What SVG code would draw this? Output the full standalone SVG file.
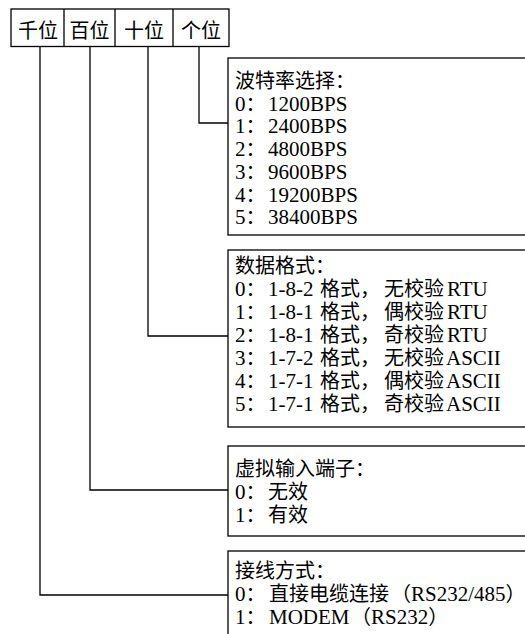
<svg xmlns="http://www.w3.org/2000/svg" width="525" height="634" viewBox="0 0 525 634">
<style>
.ln{fill:none;stroke:#000;stroke-width:1.3}
.bx{fill:#fff;stroke:#000;stroke-width:1.3}
text{font-family:"Liberation Serif","Noto Sans CJK SC",serif;font-size:20px;fill:#000}
.l{font-size:21px}
.h{text-anchor:middle}
</style>
<rect width="525" height="634" fill="#fff"/>
<g id="connectors">
<path class="ln" d="M40,47 V595 H228"/>
<path class="ln" d="M90,47 V490 H228"/>
<path class="ln" d="M148,47 V336 H228"/>
<path class="ln" d="M199,47 V123 H228"/>
</g>
<g id="header">
<rect class="bx" x="11" y="9" width="218" height="37.5"/>
<path class="ln" d="M64,9 V46.5 M115,9 V46.5 M173,9 V46.5"/>
<text class="h" x="38" y="38">千位</text>
<text class="h" x="89.5" y="38">百位</text>
<text class="h" x="144" y="38">十位</text>
<text class="h" x="201" y="38">个位</text>
</g>
<g id="baud">
<rect class="bx" x="228" y="58" width="310" height="177"/>
<text x="235" y="88">波特率选择：</text>
<text y="110.7"><tspan x="235" class="l">0</tspan>：<tspan x="268" class="l">1200BPS</tspan></text>
<text y="133.4"><tspan x="235" class="l">1</tspan>：<tspan x="268" class="l">2400BPS</tspan></text>
<text y="156.1"><tspan x="235" class="l">2</tspan>：<tspan x="268" class="l">4800BPS</tspan></text>
<text y="178.8"><tspan x="235" class="l">3</tspan>：<tspan x="268" class="l">9600BPS</tspan></text>
<text y="201.5"><tspan x="235" class="l">4</tspan>：<tspan x="268" class="l">19200BPS</tspan></text>
<text y="224.2"><tspan x="235" class="l">5</tspan>：<tspan x="268" class="l">38400BPS</tspan></text>
</g>
<g id="format">
<rect class="bx" x="228" y="250" width="310" height="177"/>
<text x="235" y="272.5">数据格式：</text>
<text y="295.5"><tspan x="235" class="l">0</tspan>：<tspan x="268" class="l">1-8-2</tspan><tspan x="320">格式，</tspan><tspan x="384">无校验</tspan><tspan x="447" class="l">RTU</tspan></text>
<text y="318.5"><tspan x="235" class="l">1</tspan>：<tspan x="268" class="l">1-8-1</tspan><tspan x="320">格式，</tspan><tspan x="384">偶校验</tspan><tspan x="447" class="l">RTU</tspan></text>
<text y="341.5"><tspan x="235" class="l">2</tspan>：<tspan x="268" class="l">1-8-1</tspan><tspan x="320">格式，</tspan><tspan x="384">奇校验</tspan><tspan x="447" class="l">RTU</tspan></text>
<text y="364.5"><tspan x="235" class="l">3</tspan>：<tspan x="268" class="l">1-7-2</tspan><tspan x="320">格式，</tspan><tspan x="384">无校验</tspan><tspan x="446" class="l">ASCII</tspan></text>
<text y="387.5"><tspan x="235" class="l">4</tspan>：<tspan x="268" class="l">1-7-1</tspan><tspan x="320">格式，</tspan><tspan x="384">偶校验</tspan><tspan x="446" class="l">ASCII</tspan></text>
<text y="410.5"><tspan x="235" class="l">5</tspan>：<tspan x="268" class="l">1-7-1</tspan><tspan x="320">格式，</tspan><tspan x="384">奇校验</tspan><tspan x="446" class="l">ASCII</tspan></text>
</g>
<g id="virtual">
<rect class="bx" x="228" y="446" width="310" height="90"/>
<text x="235" y="476">虚拟输入端子：</text>
<text y="499"><tspan x="235" class="l">0</tspan>：<tspan x="268">无效</tspan></text>
<text y="522"><tspan x="235" class="l">1</tspan>：<tspan x="268">有效</tspan></text>
</g>
<g id="wiring">
<rect class="bx" x="228" y="551" width="310" height="100"/>
<text x="235" y="578">接线方式：</text>
<text y="601"><tspan x="235" class="l">0</tspan>：<tspan x="269">直接电缆连接</tspan><tspan x="391">（</tspan><tspan class="l">RS232/485</tspan>）</text>
<text y="624"><tspan x="235" class="l">1</tspan>：<tspan x="269" class="l">MODEM</tspan><tspan x="351">（</tspan><tspan class="l">RS232</tspan>）</text>
</g>
</svg>
